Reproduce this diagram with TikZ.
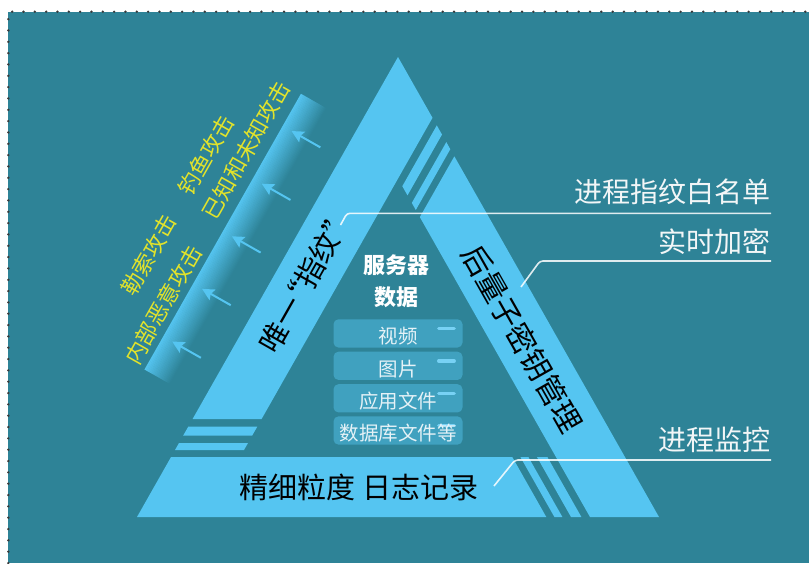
\documentclass[tikz,border=0pt]{standalone}
\usepackage{fontspec}
\setmainfont{Noto Sans CJK SC}
\usetikzlibrary{arrows.meta,calc}
\definecolor{bg}{HTML}{2E8397}
\definecolor{lb}{HTML}{55C5F1}
\definecolor{yl}{HTML}{E2E32B}
\definecolor{dotc}{HTML}{3A3A3A}
\definecolor{txw}{HTML}{F2F6F7}
\newcommand{\myfs}[1]{\fontsize{#1}{#1}\selectfont}
\tikzset{
  band/.style={fill=lb, draw=none},
  callout/.style={draw=white, draw opacity=0.85, line width=1.6pt, rounded corners=3pt},
  lab/.style={text=txw, inner sep=0pt, font=\myfs{28}},
  bandtext/.style={text=black, inner sep=0pt},
  atk/.style={text=yl, inner sep=0pt, font=\myfs{22}},
  databox/.style={fill=lb!45!bg, draw=none, rounded corners=5pt, minimum width=129pt, minimum height=28.3pt, inner sep=0pt},
  boxtext/.style={text=txw!92!lb, inner sep=0pt, font=\myfs{19.5}},
  dashc/.style={draw=lb!80!white, line width=3.4pt, line cap=round},
  shieldarrow/.style={draw=lb, line width=2pt, -{Stealth[length=12pt,width=12pt,inset=2pt]}},
}
\begin{document}
\begin{tikzpicture}[x=1pt,y=-1pt]
\useasboundingbox (0,0) rectangle (809,563);
\fill[white] (0,0) rectangle (809,563);
\fill[bg] (8.3,11.7) rectangle (809,563);
\draw[dotc, line width=2.6pt, line cap=round, dash pattern=on 0pt off 11.33pt] (8.3,563) -- (8.3,11.7) -- (809,11.7);

% left band
\fill[band] (192.6,419) -- (398,57) -- (432.5,117.8) -- (261.6,419) -- cycle;
% top stripes
\fill[band] (436.8,125.38) -- (442.0,134.55) -- (407.5,195.35) -- (402.3,186.19) -- cycle;
\fill[band] (446.3,142.13) -- (450.3,149.18) -- (415.8,209.98) -- (411.8,202.93) -- cycle;
% right band
\fill[band] (454.35,156.32) -- (659,517) -- (590,517) -- (419.85,217.12) -- cycle;
% bottom band
\fill[band] (137,517) -- (171.04,457) -- (512.26,457) -- (546.3,517) -- cycle;
% bottom-right stripes
\fill[band] (520.36,457) -- (528.36,457) -- (562.4,517) -- (554.4,517) -- cycle;
\fill[band] (536.96,457) -- (547.36,457) -- (581.4,517) -- (571.0,517) -- cycle;
% bottom-left stripes
\fill[band] (188.35,426.5) -- (257.35,426.5) -- (252.24,435.5) -- (183.24,435.5) -- cycle;
\fill[band] (178.99,443) -- (247.99,443) -- (244.02,450) -- (175.02,450) -- cycle;

% shield strip, arrows and attack texts in the frame of the left side
\begin{scope}[shift={(137,517)}, rotate=60.43, y=1pt, transform shape]
  \foreach \i in {0,...,23}{
    \pgfmathsetmacro{\p}{100*(\i+0.5)/24}
    \pgfmathsetmacro{\ya}{37+29*\i/24}
    \pgfmathsetmacro{\yb}{37+29*(\i+1)/24+0.3}
    \fill[lb!\p!bg] (132,\ya) rectangle (449,\yb);
  }
  \foreach \k/\xx in {1/170,2/230.5,3/291,4/351.5,5/412}{
    \coordinate (at\k) at (\xx,23);
    \coordinate (ah\k) at (\xx,56);
    \draw[shieldarrow] (at\k) -- (ah\k);
  }
  \node[atk] (a1) at (233.8,119) {勒索攻击};
  \node[atk] (a2) at (348.9,118.6) {钓鱼攻击};
  \node[atk] (a3) at (197.7,82) {内部恶意攻击};
  \node[atk] (a4) at (373,86) {已知和未知攻击};
  \node[bandtext, font=\myfs{29}] (lt) at (290,-30) {唯一\kern-0.45em“指纹”};
\end{scope}

% right band text
\node[bandtext, font=\myfs{30}, rotate=-60.43] (rt) at (522,339) {后量子密钥管理};
% bottom band text
\node[bandtext, font=\myfs{29}] (bt) at (359.2,487.5) {精细粒度 日志记录};

% server data
\node[text=white, inner sep=0pt, font=\myfs{22}\bfseries] (sd1) at (396.7,265) {服务器};
\node[text=white, inner sep=0pt, font=\myfs{22}\bfseries] (sd2) at (396.7,297) {数据};

\foreach \n/\yy/\tt in {1/333.4/视频, 2/365.8/图片, 3/398.3/应用文件, 4/430.5/数据库文件等}{
  \node[databox] (b\n) at (398,\yy) {};
  \draw[dashc] ($(b\n.north east)+(-24,9.5)$) -- ($(b\n.north east)+(-8.5,9.5)$);
  \node[boxtext] (bt\n) at ($(b\n.center)+(0,3)$) {\tt};
}

% callouts
\coordinate (l1a) at (340.5,225);
\coordinate (l1b) at (347,213.3);
\coordinate (l1c) at (771,213.3);
\coordinate (l2a) at (521,287);
\coordinate (l2b) at (540,261);
\coordinate (l2c) at (771,261);
\coordinate (l3a) at (494,486);
\coordinate (l3b) at (515,460);
\coordinate (l3c) at (771,460);
\draw[callout] (l1a) -- (l1b) -- (l1c);
\draw[callout] (l2a) -- (l2b) -- (l2c);
\draw[callout] (l3a) -- (l3b) -- (l3c);
\node[lab, anchor=east] (t1) at (771,192.2) {进程指纹白名单};
\node[lab, anchor=east] (t2) at (771,242) {实时加密};
\node[lab, anchor=east] (t3) at (771,439.7) {进程监控};
\end{tikzpicture}
\end{document}
